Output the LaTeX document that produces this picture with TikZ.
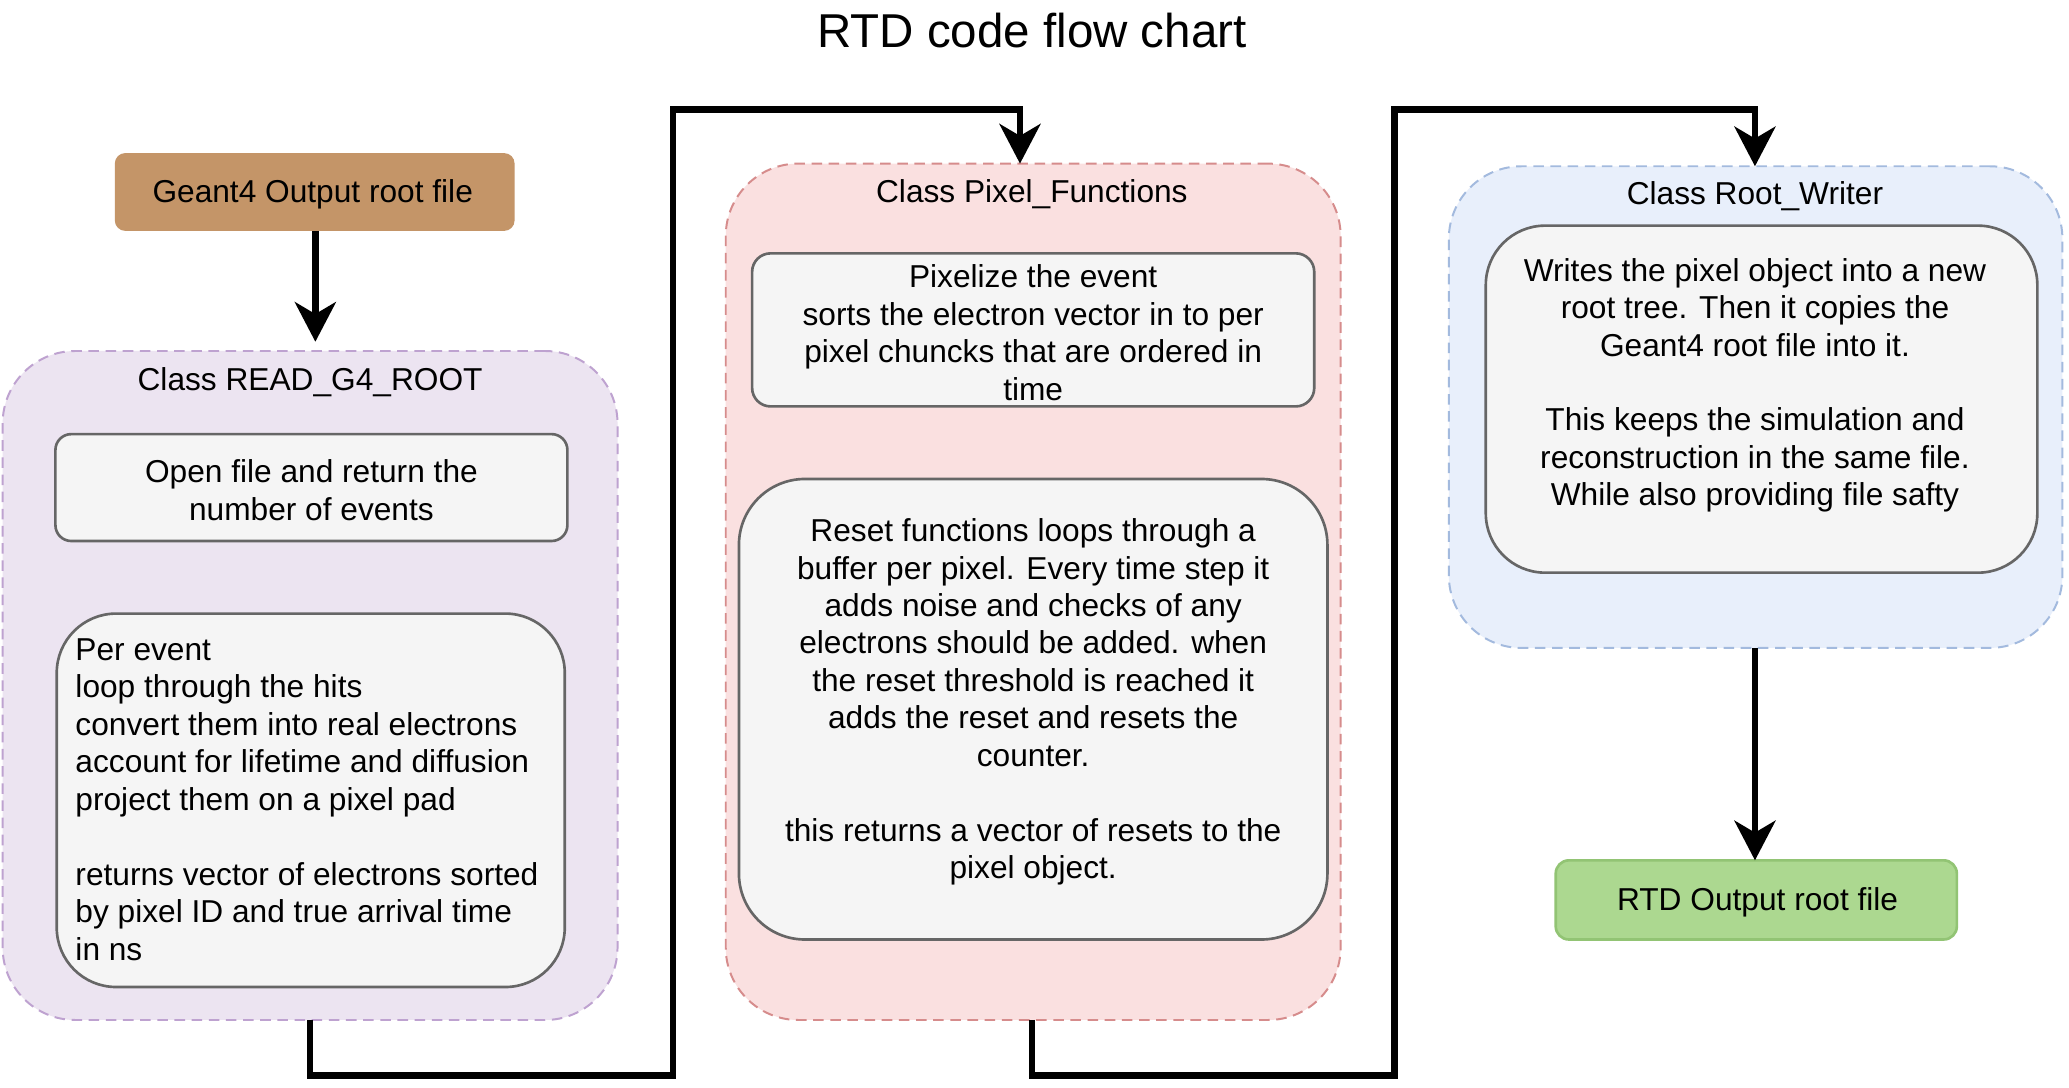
\documentclass[tikz,border=0pt]{standalone}
\usepackage{fontspec}
\setmainfont{Liberation Sans}
\usetikzlibrary{arrows.meta}
\definecolor{brownfill}{RGB}{196,149,104}
\definecolor{purplefill}{RGB}{236,228,241}
\definecolor{purplestroke}{RGB}{190,162,208}
\definecolor{pinkfill}{RGB}{250,224,224}
\definecolor{pinkstroke}{RGB}{214,140,140}
\definecolor{bluefill}{RGB}{232,239,251}
\definecolor{bluestroke}{RGB}{163,186,222}
\definecolor{innerfill}{RGB}{245,245,245}
\definecolor{innerstroke}{RGB}{102,102,102}
\definecolor{greenfill}{RGB}{172,216,144}
\definecolor{greenstroke}{RGB}{146,196,116}
\newcommand{\rtdbody}{\fontsize{24}{28.4}\selectfont}
\newcommand{\rtdtitle}{\fontsize{36}{42}\selectfont}
\begin{document}
\begin{tikzpicture}[x=1pt,y=-1pt,
  shapebox/.style={rectangle, inner sep=0pt, outer sep=0pt, font=\rtdbody, align=center},
  container/.style={shapebox, rounded corners=55pt, dash pattern=on 8pt off 5pt, line width=1.5pt},
  innerbox/.style={shapebox, draw=innerstroke, fill=innerfill, line width=2pt},
  txt/.style={inner sep=0pt, font=\rtdbody, align=center},
  conn/.style={line width=5pt, -{Stealth[length=30pt,width=31pt,inset=9pt]}}]
\useasboundingbox (0,0) rectangle (1568,824);
\fill[white] (0,0) rectangle (1568,824);

% title
\node[inner sep=0pt, font=\rtdtitle] (title) at (782,23) {RTD code flow chart};

% input
\node[shapebox, fill=brownfill, rounded corners=8pt, minimum width=303pt, minimum height=59pt] (g4) at (238.5,145.5) {};
\node[txt] (g4txt) at (237,147) {Geant4 Output root file};

% READ_G4_ROOT container
\node[container, draw=purplestroke, fill=purplefill, minimum width=466pt, minimum height=507pt] (read) at (235,519.5) {};
\node[txt] (readlbl) at (235,290) {Class READ\_G4\_ROOT};
\node[innerbox, rounded corners=12pt, minimum width=388pt, minimum height=81pt] (open) at (236,369.5) {};
\node[txt] (opentxt) at (236,371.5) {Open file and return the\\number of events};
\node[innerbox, rounded corners=45pt, minimum width=385pt, minimum height=283pt] (perevent) at (235.5,606.5) {};
\node[inner sep=0pt, font=\rtdbody, align=left, anchor=west] (pereventtxt) at (57,606) {Per event\\loop through the hits\\convert them into real electrons\\account for lifetime and diffusion\\project them on a pixel pad\\[28.4pt]returns vector of electrons sorted\\by pixel ID and true arrival time\\in ns};

% Pixel_Functions container
\node[container, draw=pinkstroke, fill=pinkfill, minimum width=466pt, minimum height=649pt] (pix) at (783,448.5) {};
\node[txt] (pixlbl) at (782,147) {Class Pixel\_Functions};
\node[innerbox, rounded corners=14pt, minimum width=426pt, minimum height=116pt] (pixelize) at (783,250) {};
\node[txt] (pixelizetxt) at (783,252) {Pixelize the event\\sorts the electron vector in to per\\pixel chuncks that are ordered in\\time};
\node[innerbox, rounded corners=50pt, minimum width=446pt, minimum height=349pt] (reset) at (783,537.5) {};
\node[txt] (resettxt) at (783,532) {Reset functions loops through a\\buffer per pixel. Every time step it\\adds noise and checks of any\\electrons should be added. when\\the reset threshold is reached it\\adds the reset and resets the\\counter.\\[28.4pt]this returns a vector of resets to the\\pixel object.};

% Root_Writer container
\node[container, draw=bluestroke, fill=bluefill, minimum width=465pt, minimum height=365pt] (writer) at (1330.5,308.5) {};
\node[txt] (writerlbl) at (1330,149) {Class Root\_Writer};
\node[innerbox, rounded corners=45pt, minimum width=418pt, minimum height=263pt] (writes) at (1335,302.5) {};
\node[txt] (writestxt) at (1330,292) {Writes the pixel object into a new\\root tree. Then it copies the\\Geant4 root file into it.\\[28.4pt]This keeps the simulation and\\reconstruction in the same file.\\While also providing file safty};

% output
\node[shapebox, draw=greenstroke, fill=greenfill, line width=2pt, rounded corners=10pt, minimum width=304pt, minimum height=60pt] (out) at (1331,682) {};
\node[txt] (outtxt) at (1332,684) {RTD Output root file};

% routing coordinates
\coordinate (c1) at (239,0);
\coordinate (c2a) at (235,815);
\coordinate (c2b) at (510,815);
\coordinate (c2c) at (510,83);
\coordinate (c2d) at (773,83);
\coordinate (c3a) at (782,815);
\coordinate (c3b) at (1057,815);
\coordinate (c3c) at (1057,83);
\coordinate (c3d) at (1330,83);

% connectors
\draw[conn, shorten >=7pt] (g4.south -| c1) -- (c1 |- read.north);
\draw[conn] (read.south) -- (c2a) -- (c2b) -- (c2c) -- (c2d) -- (c2d |- pix.north);
\draw[conn] (c3a |- pix.south) -- (c3a) -- (c3b) -- (c3c) -- (c3d) -- (c3d |- writer.north);
\draw[conn] (writer.south -| c3d) -- (c3d |- out.north);
\end{tikzpicture}
\end{document}
